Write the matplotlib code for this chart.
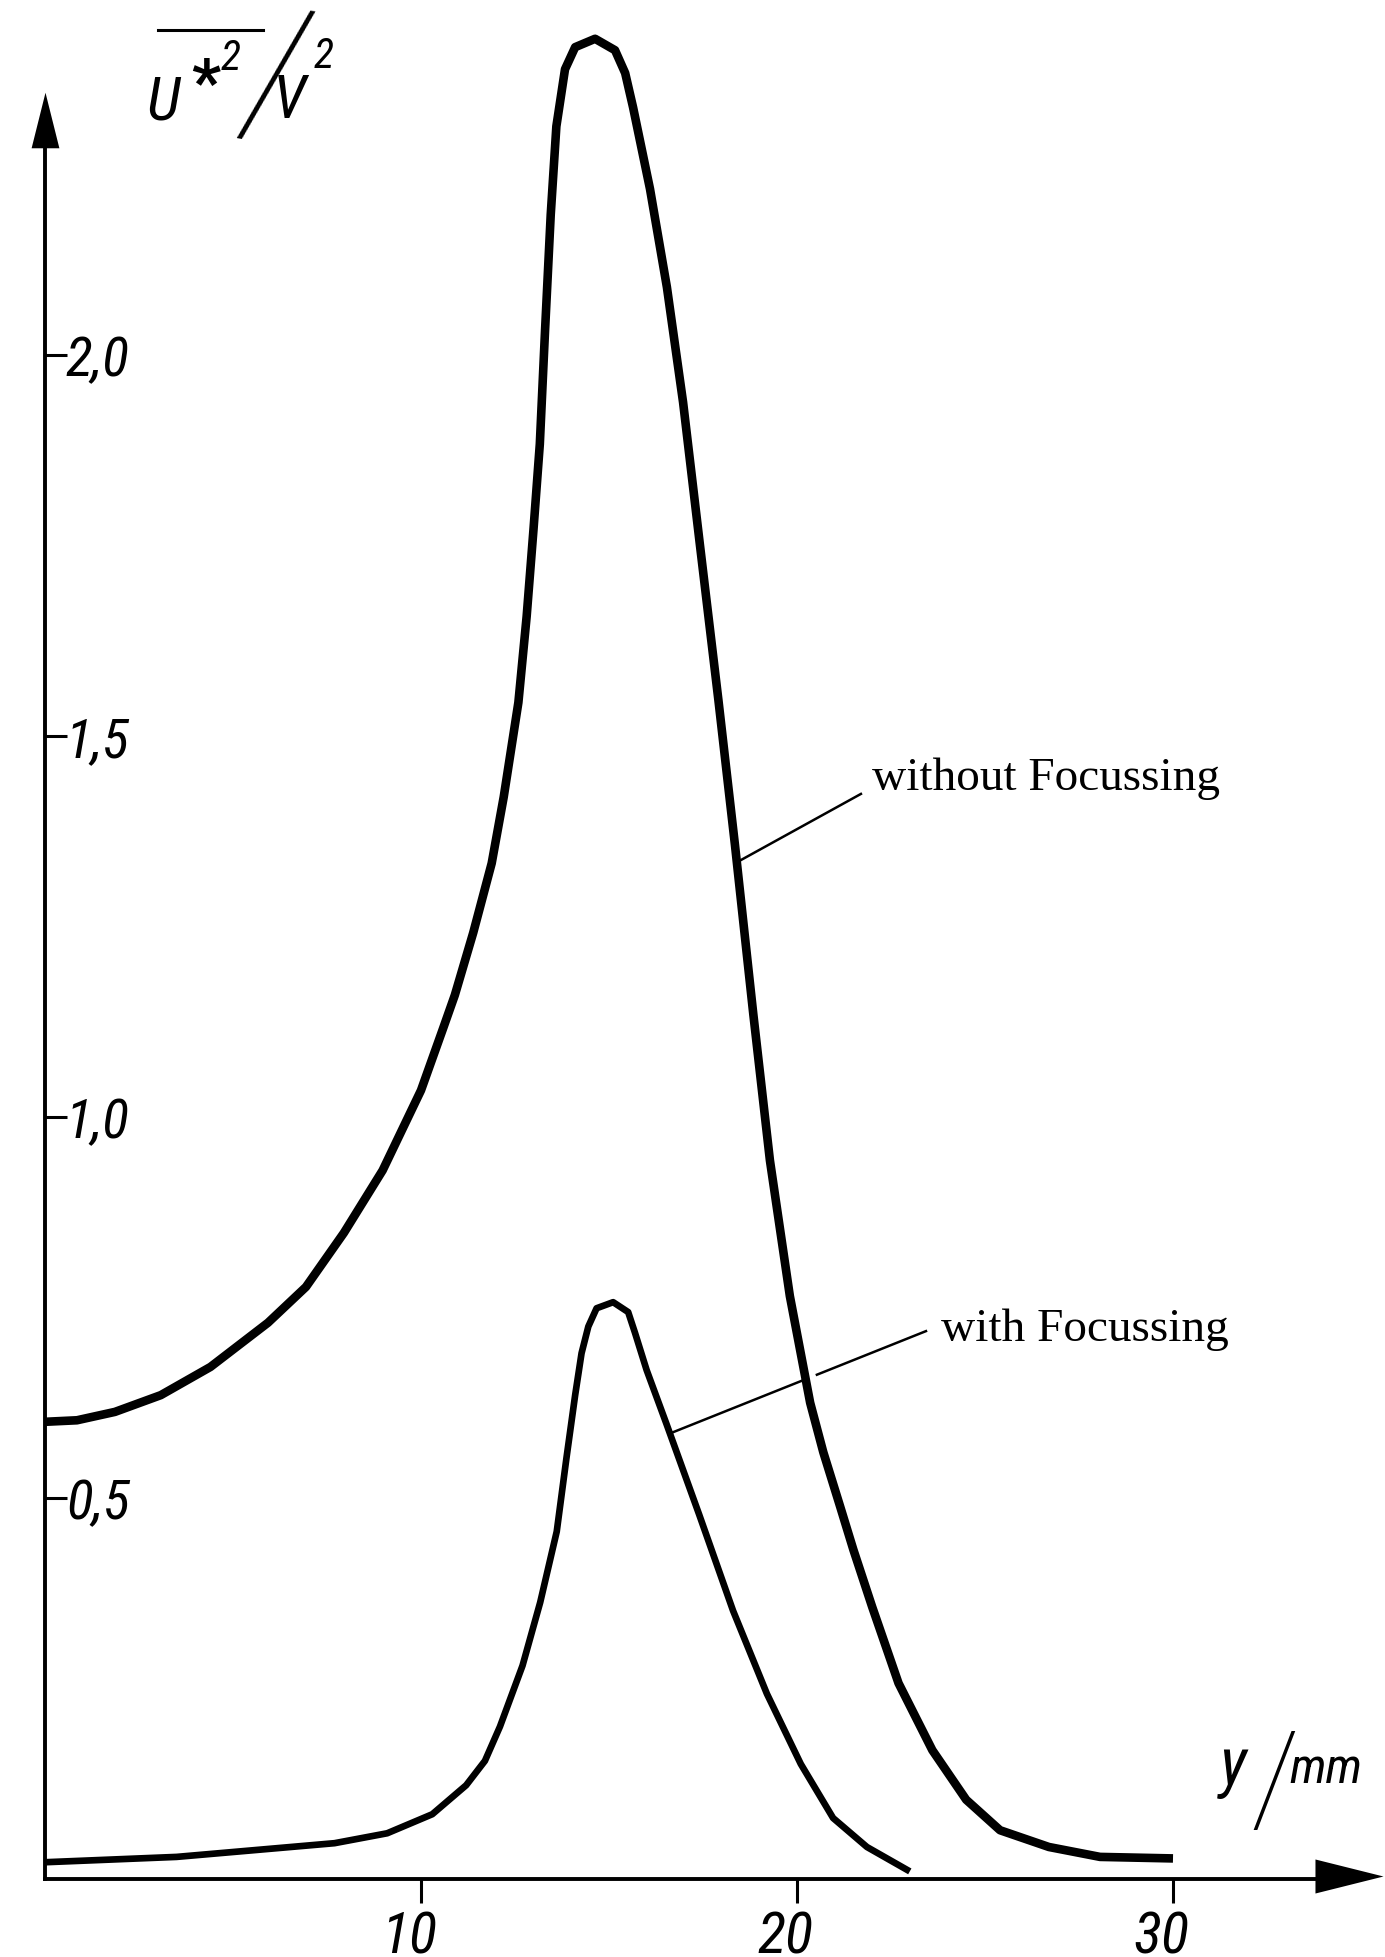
import numpy as np
import matplotlib
matplotlib.use('Agg')
import matplotlib.pyplot as plt
from matplotlib.path import Path
from matplotlib.lines import Line2D
from matplotlib.transforms import ScaledTranslation

# y / mm  and  U*^2 / V^2
y_without = [0.0, 0.85, 1.86, 3.08, 4.4, 5.93, 6.94, 7.95, 8.98, 10.0, 10.6, 10.9,
             11.39, 11.88, 12.2, 12.59, 12.81, 12.99, 13.16, 13.3, 13.45, 13.6, 13.83,
             14.1, 14.63, 15.16, 15.43, 15.64, 16.09, 16.54, 16.97, 17.42, 17.91,
             18.35, 18.84, 19.28, 19.81, 20.35, 20.7, 21.14, 21.5, 22.0, 22.7, 23.6,
             24.5, 25.4, 26.7, 28.06, 30.0]
u_without = [0.600, 0.602, 0.613, 0.635, 0.672, 0.730, 0.777, 0.848, 0.930, 1.035,
             1.118, 1.160, 1.242, 1.333, 1.420, 1.544, 1.657, 1.770, 1.883, 2.033,
             2.184, 2.300, 2.375, 2.404, 2.415, 2.400, 2.370, 2.325, 2.218, 2.089,
             1.938, 1.750, 1.547, 1.357, 1.134, 0.943, 0.765, 0.625, 0.560, 0.490,
             0.432, 0.357, 0.257, 0.169, 0.104, 0.064, 0.042, 0.029, 0.027]

y_with = [0.0, 3.5, 7.7, 9.1, 10.3, 11.2, 11.7, 12.1, 12.7, 13.17, 13.61, 13.87, 14.1,
          14.27, 14.45, 14.67, 15.11, 15.51, 15.69, 16.0, 16.53, 17.4, 18.3, 19.2,
          20.1, 20.96, 21.86, 23.0]
u_with = [0.022, 0.029, 0.047, 0.060, 0.085, 0.123, 0.155, 0.200, 0.280, 0.363, 0.456,
          0.553, 0.635, 0.690, 0.725, 0.749, 0.757, 0.744, 0.717, 0.668, 0.597, 0.478,
          0.352, 0.243, 0.151, 0.080, 0.042, 0.010]

x_ticks = [10, 20, 30]
x_tick_labels = ['10', '20', '30']
u_ticks = [0.5, 1.0, 1.5, 2.0]
u_tick_labels = ['0,5', '1,0', '1,5', '2,0']

label_without = 'without Focussing'
label_with = 'with Focussing'

W, H = 1385, 1957
hand = ['Roboto Condensed', 'Liberation Sans Narrow', 'DejaVu Sans']
thin = ['Roboto', 'DejaVu Sans']


def P(x, y):
    # pixel position (from top-left) -> figure fraction
    return x / W, 1 - y / H


fig = plt.figure(figsize=(W / 100, H / 100), dpi=100)
ax = fig.add_axes([0, 0, 1, 1])
x0_px, mm_px = 45, 37.6
y0_px, unit_px = 1879, 762
ax.set_xlim(-x0_px / mm_px, (W - x0_px) / mm_px)
ax.set_ylim(-(H - y0_px) / unit_px, y0_px / unit_px)

ax.plot(y_without, u_without, color='k', lw=6.2, solid_capstyle='butt',
        solid_joinstyle='round', zorder=3)
ax.plot(y_with, u_with, color='k', lw=4.8, solid_capstyle='butt',
        solid_joinstyle='round', zorder=3)

# axes with arrow heads
for s in ['top', 'right']:
    ax.spines[s].set_visible(False)
ax.spines['left'].set_position(('data', 0))
ax.spines['bottom'].set_position(('data', 0))
ax.spines['left'].set_bounds(0, 2.30)
ax.spines['bottom'].set_bounds(0, 33.9)
ax.spines['left'].set_linewidth(2.8)
ax.spines['bottom'].set_linewidth(2.8)

MC = [Path.MOVETO, Path.LINETO, Path.LINETO, Path.CLOSEPOLY]
up_head = Path([(-0.5, -1), (0.5, -1), (0, 1), (-0.5, -1)], MC)
right_head = Path([(-1, -0.5), (-1, 0.5), (1, 0), (-1, -0.5)], MC)
ax.plot([0], [2.309], marker=up_head, ms=40, color='k', mew=0, clip_on=False)
ax.plot([34.69], [0.004], marker=right_head, ms=49, color='k', mew=0, clip_on=False)

ax.set_yticks(u_ticks, u_tick_labels)
ax.tick_params(axis='y', direction='in', length=16, width=2.2, pad=-15)
for lab in ax.get_yticklabels():
    lab.set_horizontalalignment('left')
    lab.set_family(hand)
    lab.set_style('italic')
    lab.set_fontsize(40)

ax.set_xticks(x_ticks, x_tick_labels)
ax.tick_params(axis='x', direction='out', length=17, width=2.2, pad=6)
shift = ScaledTranslation(-0.12, 0, fig.dpi_scale_trans)
for lab in ax.get_xticklabels():
    lab.set_family(hand)
    lab.set_style('italic')
    lab.set_fontsize(42)
    lab.set_transform(lab.get_transform() + shift)

# leader lines and curve labels
i_pk = int(np.argmax(u_without))
xs, us = np.array(y_without[i_pk:]), np.array(u_without[i_pk:])
p0 = (18.40, np.interp(18.40, xs, us))
p1 = (21.70, 1.424)
ax.plot([p0[0], p1[0]], [p0[1], p1[1]], color='k', lw=1.8)
ax.text(22.0, 1.429, label_without, family='Liberation Serif', fontsize=34,
        ha='left', va='baseline')

j_pk = int(np.argmax(u_with))
xw, uw = np.array(y_with[j_pk:]), np.array(u_with[j_pk:])
q0 = np.array([16.62, np.interp(16.62, xw, uw)])
q1 = np.array([23.43, 0.719])
for t0, t1 in [(0.0, 0.516), (0.574, 1.0)]:
    a, b = q0 + t0 * (q1 - q0), q0 + t1 * (q1 - q0)
    ax.plot([a[0], b[0]], [a[1], b[1]], color='k', lw=1.8)
ax.text(23.83, 0.706, label_with, family='Liberation Serif', fontsize=34,
        ha='left', va='baseline')

# axis titles
fig.add_artist(Line2D([158 / W, 263 / W], [1 - 30 / H] * 2, lw=2.2, color='k'))
fig.text(*P(146, 120), 'U', fontsize=44, family=hand, style='italic', va='baseline')
fig.text(*P(191, 104), '*', fontsize=46, family=hand, weight='bold', va='baseline')
fig.text(*P(221, 70), '2', fontsize=30, family=hand, style='italic', va='baseline')
fig.text(*P(234, 127), '/', fontsize=128, family=thin, weight=100, va='baseline',
         rotation=-9, rotation_mode='anchor')
fig.text(*P(273, 118), 'V', fontsize=44, family=hand, style='italic', va='baseline')
fig.text(*P(314, 68), '2', fontsize=30, family=hand, style='italic', va='baseline')

fig.text(*P(1220, 1785), 'y', fontsize=48, family=hand, style='italic', va='baseline')
fig.text(*P(1250, 1822), '/', fontsize=92, family=thin, weight=100, va='baseline')
fig.text(*P(1289, 1783), 'mm', fontsize=36, family=hand, style='italic', va='baseline')

fig.savefig('out.png', dpi=100)
